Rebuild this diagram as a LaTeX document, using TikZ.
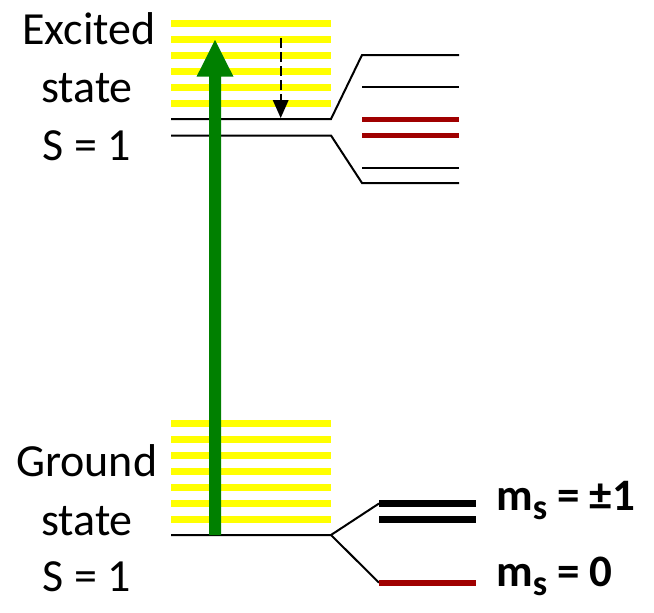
\documentclass[tikz,border=0pt]{standalone}
\usepackage{fontspec}
\setmainfont{Carlito}
\usepackage{xcolor}
\usetikzlibrary{arrows.meta}
\definecolor{barylw}{RGB}{255,255,0}
\definecolor{lvlred}{RGB}{160,0,0}
\definecolor{pumpgrn}{RGB}{0,128,0}
\newcommand{\msub}{m\raisebox{-9pt}{\fontsize{36}{36}\selectfont s}}

\begin{document}
\begin{tikzpicture}[x=1pt,y=-1pt,
  lvl/.style={line width=2pt},
  band/.style={barylw, line width=7pt},
  lbl/.style={anchor=base, inner sep=0pt, font=\fontsize{46}{55}\selectfont},
  mslbl/.style={anchor=base west, inner sep=0pt, font=\fontsize{45}{50}\selectfont\bfseries}]
\useasboundingbox (0,0) rectangle (654,613);
% vibronic bands
\foreach \i in {0,...,5}
  \draw[band] (171,23.5+16*\i) -- (331,23.5+16*\i);
\foreach \i in {0,...,6}
  \draw[band] (171,423.5+16*\i) -- (331,423.5+16*\i);
% excited state levels
\coordinate (exua) at (171,119);
\coordinate (exub) at (331,119);
\coordinate (exuc) at (362,55);
\coordinate (exud) at (459,55);
\coordinate (exla) at (171,135.5);
\coordinate (exlb) at (331,135.5);
\coordinate (exlc) at (362,183);
\coordinate (exld) at (459,183);
\draw[lvl] (exua) -- (exub) -- (exuc) -- (exud);
\draw[lvl] (exla) -- (exlb) -- (exlc) -- (exld);
\draw[lvl] (362,87.3) -- (459,87.3);
\draw[lvl] (362,167.7) -- (459,167.7);
\draw[lvlred, line width=5pt] (362,119.3) -- (459,119.3);
\draw[lvlred, line width=5pt] (362,135.7) -- (459,135.7);
% ground state levels
\coordinate (gsa) at (171,535);
\coordinate (gsb) at (331,535);
\coordinate (gsup) at (379,503.5);
\coordinate (gsdn) at (379,582.7);
\draw[lvl] (gsa) -- (gsb) -- (gsup);
\draw[lvl] (gsb) -- (gsdn);
\draw[line width=7pt] (gsup) -- (476,503.5);
\draw[line width=7pt] (379,519) -- (476,519);
\draw[lvlred, line width=6pt] (gsdn) -- (476,582.7);
% pump arrow
\fill[pumpgrn] (209,535) -- (209,76.7) -- (196.5,76.7) -- (215,40)
  -- (233.5,76.7) -- (221,76.7) -- (221,535) -- cycle;
% relaxation
\coordinate (reltop) at (280.7,38);
\coordinate (relbot) at (280.7,118);
\draw[line width=2pt, dash pattern=on 10pt off 4pt, shorten >=16pt] (reltop) -- (relbot);
\fill (relbot) -- ++(-8,-18) -- ++(16,0) -- cycle;
% labels
\node[lbl] (exc1) at (89,45) {Excited};
\node[lbl] (exc2) at (87,102.7) {state};
\node[lbl] (exc3) at (87,160) {S = 1};
\node[lbl] (gnd1) at (86.7,476.7) {Ground};
\node[lbl] (gnd2) at (87,535) {state};
\node[lbl] (gnd3) at (87,591.7) {S = 1};
\node[mslbl] (mspm) at (496,510) {\msub{} = ±1};
\node[mslbl] (mszero) at (496,586) {\msub{} = 0};
\end{tikzpicture}
\end{document}
